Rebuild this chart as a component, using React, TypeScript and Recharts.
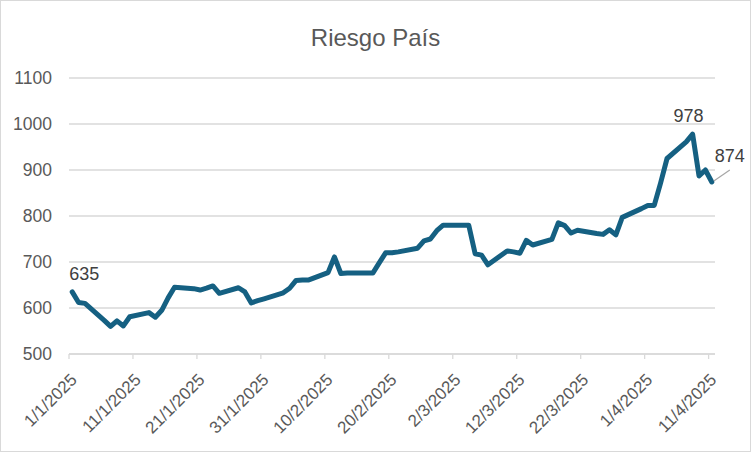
import React from 'react';
import { LineChart, Line, XAxis, YAxis, CartesianGrid, LabelList } from 'recharts';

const title = 'Riesgo País';

const dates = [
  '2025-01-01', '2025-01-02', '2025-01-03', '2025-01-06', '2025-01-07', '2025-01-08', '2025-01-09', '2025-01-10',
  '2025-01-13', '2025-01-14', '2025-01-15', '2025-01-16', '2025-01-17',
  '2025-01-20', '2025-01-21', '2025-01-22', '2025-01-23', '2025-01-24',
  '2025-01-27', '2025-01-28', '2025-01-29', '2025-01-30', '2025-01-31',
  '2025-02-03', '2025-02-04', '2025-02-05', '2025-02-06', '2025-02-07',
  '2025-02-10', '2025-02-11', '2025-02-12', '2025-02-13', '2025-02-14',
  '2025-02-17', '2025-02-18', '2025-02-19', '2025-02-20', '2025-02-21',
  '2025-02-24', '2025-02-25', '2025-02-26', '2025-02-27', '2025-02-28',
  '2025-03-03', '2025-03-04', '2025-03-05', '2025-03-06', '2025-03-07',
  '2025-03-10', '2025-03-11', '2025-03-12', '2025-03-13', '2025-03-14',
  '2025-03-17', '2025-03-18', '2025-03-19', '2025-03-20', '2025-03-21',
  '2025-03-24', '2025-03-25', '2025-03-26', '2025-03-27', '2025-03-28',
  '2025-03-31', '2025-04-01', '2025-04-02', '2025-04-03', '2025-04-04',
  '2025-04-07', '2025-04-08', '2025-04-09', '2025-04-10', '2025-04-11',
];

const values = [
  635, 612, 610, 573, 560, 572, 561, 581,
  590, 580, 595, 622, 645,
  642, 639, 643, 648, 632,
  644, 635, 611, 616, 620,
  633, 643, 660, 661, 661,
  677, 711, 675, 676, 676,
  676, 698, 720, 720, 722,
  730, 746, 750, 768, 780,
  780, 780, 718, 715, 694,
  724, 722, 719, 747, 737,
  749, 785, 779, 763, 769,
  762, 760, 770, 759, 797,
  816, 823, 823, 872, 925,
  961, 978, 887, 900, 874,
];

const xTickLabels = [
  '1/1/2025', '11/1/2025', '21/1/2025', '31/1/2025', '10/2/2025', '20/2/2025',
  '2/3/2025', '12/3/2025', '22/3/2025', '1/4/2025', '11/4/2025',
];
const axisEndDate = '12/4/2025';
const yTicks = [500, 600, 700, 800, 900, 1000, 1100];
const labeledDates = ['2025-01-01', '2025-04-08', '2025-04-11'];

const START = Date.UTC(2025, 0, 1);
const DAY = 86400000;
const dayOfIso = (iso: string) => {
  const [y, m, d] = iso.split('-').map(Number);
  return (Date.UTC(y, m - 1, d) - START) / DAY;
};
const dayOfLabel = (s: string) => {
  const [d, m, y] = s.split('/').map(Number);
  return (Date.UTC(y, m - 1, d) - START) / DAY;
};

const data = dates.map((d, i) => ({ x: dayOfIso(d) + 0.5, value: values[i], date: d }));
const xTicks = xTickLabels.map(dayOfLabel);
const xEnd = dayOfLabel(axisEndDate);

const FONT = '"Liberation Sans", Arial, sans-serif';
const TICK_COLOR = '#595959';
const LINE_COLOR = '#156082';

const XTick = (props: any) => {
  const { x, y, payload } = props;
  const idx = xTicks.indexOf(payload.value);
  const label = idx >= 0 ? xTickLabels[idx] : '';
  const px = x + 5;
  const py = y + 18;
  return (
    <text
      x={px}
      y={py}
      transform={`rotate(-45, ${px}, ${py})`}
      textAnchor="end"
      dominantBaseline="central"
      fill={TICK_COLOR}
      fontSize={17}
      fontFamily={FONT}
    >
      {label}
    </text>
  );
};

const renderLabel = (props: any) => {
  const { x, y, value, index } = props;
  const d = data[index]?.date;
  const k = labeledDates.indexOf(d);
  if (k < 0) return null;
  const common = { fill: '#404040', fontSize: 18, fontFamily: FONT, textAnchor: 'middle' as const };
  if (k === 0) {
    return <text x={x + 12} y={y - 12} {...common}>{value}</text>;
  }
  if (k === 1) {
    return <text x={x - 4} y={y - 12.5} {...common}>{value}</text>;
  }
  return (
    <g>
      <line x1={x + 2} y1={y - 1} x2={x + 18} y2={y - 12} stroke="#a6a6a6" strokeWidth={1.2} />
      <text x={x + 18} y={y - 20} {...common}>{value}</text>
    </g>
  );
};

export default function App() {
  return (
    <div style={{ position: 'absolute', left: 0, top: 0, width: 751, height: 452, background: '#fff' }}>
      <div
        style={{
          position: 'absolute',
          left: 0,
          top: 26,
          width: 751,
          textAlign: 'center',
          fontFamily: FONT,
          fontSize: 24,
          lineHeight: '24px',
          color: '#595959',
        }}
      >
        {title}
      </div>
      <div style={{ position: 'absolute', left: 0, top: 0 }}>
        <LineChart width={751} height={452} data={data} margin={{ top: 78, right: 36, bottom: 0, left: 0 }}>
          <CartesianGrid horizontal vertical={false} stroke="#d9d9d9" strokeWidth={1.3} />
          <XAxis
            dataKey="x"
            type="number"
            domain={[0, xEnd]}
            ticks={xTicks}
            interval={0}
            height={98}
            tickSize={5}
            tickMargin={0}
            axisLine={{ stroke: '#d9d9d9', strokeWidth: 1.3 }}
            tickLine={{ stroke: '#d9d9d9', strokeWidth: 1.3 }}
            tick={<XTick />}
            allowDataOverflow
          />
          <YAxis
            type="number"
            domain={[500, 1100]}
            ticks={yTicks}
            interval={0}
            width={69}
            axisLine={false}
            tickLine={false}
            tickSize={6}
            tickMargin={11}
            tick={{ fill: TICK_COLOR, fontSize: 17.5, fontFamily: FONT }}
          />
          <Line
            type="linear"
            dataKey="value"
            stroke={LINE_COLOR}
            strokeWidth={5}
            strokeLinejoin="round"
            strokeLinecap="round"
            dot={false}
            activeDot={false}
            isAnimationActive={false}
          >
            <LabelList dataKey="value" content={renderLabel} />
          </Line>
        </LineChart>
      </div>
      <div
        style={{
          position: 'absolute',
          left: 0,
          top: 0,
          width: 751,
          height: 452,
          boxSizing: 'border-box',
          border: '1px solid #d9d9d9',
          pointerEvents: 'none',
        }}
      />
    </div>
  );
}
